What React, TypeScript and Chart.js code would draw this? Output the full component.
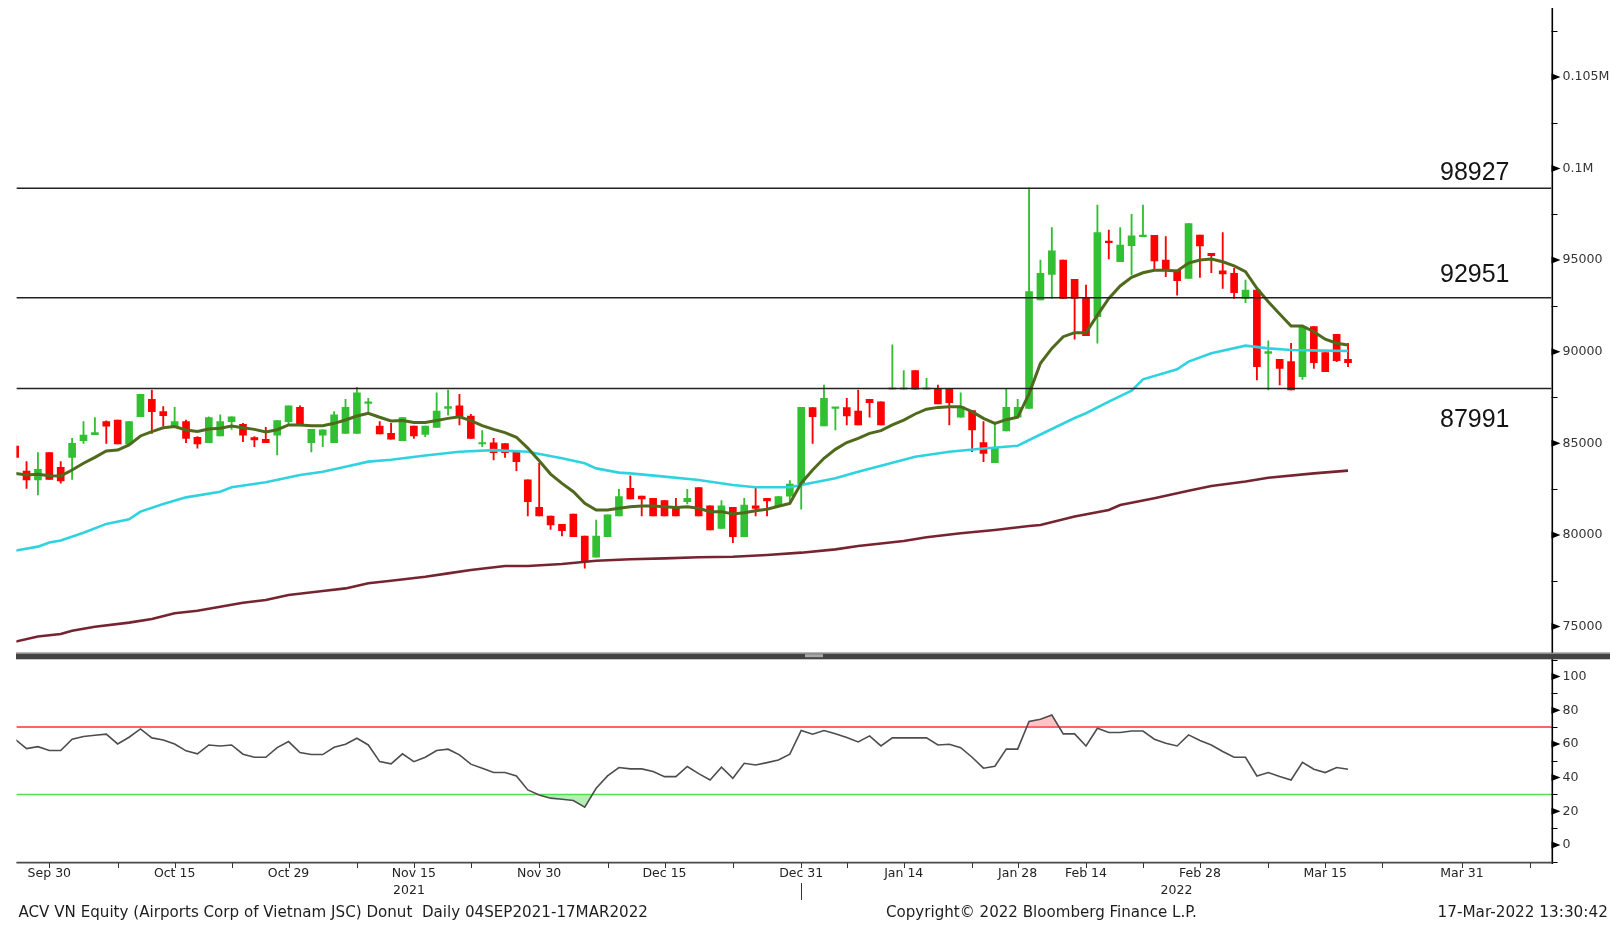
import { useEffect, useRef } from 'react';
import { Chart, registerables } from 'chart.js';

Chart.register(...registerables);

// ---------------- data (trading-day index 0 = 27 Sep 2021) ----------------
const openP = [
  84850, 83490, 83000, 84490, 83690, 84230, 85140, 85470, 86180, 86270,
  84960, 86450, 87400, 86730, 85910, 86180, 85330, 85030, 85400, 86180,
  86040, 85310, 85220, 85450, 86180, 86960, 85030, 85450, 85030, 85540,
  85540, 87180, 85940, 85540, 85140, 85940, 85490, 85870, 86910, 87040,
  86490, 84960, 85030, 84980, 84510, 83000, 81500, 81030, 80580, 81140,
  79940, 78780, 79900, 81030, 82540, 82120, 82000, 81870, 81500, 81810,
  82580, 81580, 80360, 81500, 79900, 81580, 81990, 81580, 82120, 82780,
  86950, 85950, 86910, 86950, 86760, 87400, 87260, 87950, 87950, 88970,
  87950, 87950, 87950, 86420, 86780, 85040, 83940, 85670, 86420, 86910,
  92820, 94220, 95000, 93950, 92910, 91910, 96040, 94910, 95790, 96280,
  96350, 95000, 94450, 94000, 96370, 95370, 94420, 94280, 92910, 93370,
  89910, 89580, 89460, 88640, 91370, 89950, 90950, 89580,
];
const highP = [
  85450, 84000, 84490, 84490, 84000, 85270, 86180, 86400, 86220, 86270,
  86180, 87670, 87910, 87000, 86960, 86270, 85360, 86450, 86550, 86450,
  86090, 85360, 85870, 86240, 87050, 87050, 85760, 85730, 86730, 87400,
  88060, 87450, 86180, 86090, 86400, 85940, 85940, 87760, 87910, 87670,
  86580, 85690, 85270, 84980, 84510, 83000, 83910, 81030, 80580, 81140,
  79940, 80810, 81090, 82490, 83220, 82120, 82000, 81870, 82000, 82490,
  82580, 81580, 81870, 81500, 82000, 82540, 81990, 82090, 82960, 86960,
  86950, 88180, 86960, 87450, 87910, 87400, 87260, 90370, 88970, 88970,
  88550, 88180, 87950, 87760, 86780, 86180, 86090, 87950, 87400, 98927,
  95000, 96770, 95000, 93950, 93640, 98010, 96640, 96770, 97500, 98010,
  96350, 96280, 94450, 96990, 96370, 95370, 96500, 94550, 93910, 93370,
  90600, 89580, 90460, 91370, 91370, 89950, 90950, 90460,
];
const lowP = [
  83000, 82540, 82180, 83030, 82820, 83030, 85000, 85470, 85000, 84960,
  84960, 86450, 85540, 85940, 85910, 85030, 84730, 85030, 85400, 85760,
  85090, 84820, 85030, 84360, 86040, 86040, 84530, 84820, 85030, 85540,
  85540, 86640, 85510, 85220, 85140, 85270, 85360, 85870, 86540, 86000,
  85270, 84820, 84090, 84230, 83510, 81030, 81030, 80300, 79940, 79900,
  78180, 78780, 79900, 81030, 81960, 81030, 81030, 81030, 81030, 81690,
  81030, 80270, 80360, 79580, 79900, 81030, 81030, 81580, 81720, 81400,
  85000, 85950, 85730, 86000, 86000, 86420, 86000, 87950, 87950, 87950,
  87950, 87150, 86000, 86420, 84540, 84000, 83940, 85670, 86420, 86910,
  92820, 92910, 92910, 90680, 90880, 90460, 95060, 94910, 94190, 96280,
  94460, 94100, 93080, 94000, 94060, 94310, 93460, 92910, 92680, 88460,
  87910, 88180, 87910, 88490, 89090, 88910, 89460, 89180,
];
const closeP = [
  84230, 83000, 83580, 83030, 82940, 85000, 85450, 85580, 85940, 84960,
  86180, 87670, 86730, 86510, 86180, 85270, 84960, 86400, 86180, 86450,
  85450, 85180, 85030, 86240, 87050, 86040, 85760, 85730, 86550, 86960,
  87760, 87270, 85510, 85220, 86400, 85400, 85940, 86760, 87000, 86450,
  85270, 85030, 84490, 84490, 84000, 81810, 81030, 80540, 80230, 79900,
  78540, 79940, 81090, 82090, 81960, 81960, 81030, 81030, 81030, 82000,
  81030, 80270, 81580, 79900, 81630, 81450, 81860, 82090, 82780, 86960,
  86450, 87450, 86960, 86490, 86000, 87220, 86000, 88000, 88000, 87950,
  88000, 87150, 87220, 87000, 85730, 84450, 84730, 86960, 86960, 93280,
  94280, 95500, 92910, 92910, 90880, 96500, 95950, 95820, 96330, 96330,
  94950, 94450, 93880, 96990, 95770, 95240, 94240, 93220, 93370, 89180,
  90000, 89090, 87910, 91370, 89400, 88910, 89510, 89400,
];
// short moving average (olive), one value per trading day
const maShort = [
  83360, 83270, 83310, 83230, 83220, 83540, 83910, 84230, 84580, 84630,
  84910, 85400, 85640, 85850, 85910, 85730, 85640, 85780, 85820, 85940,
  85850, 85760, 85620, 85740, 86000, 86000, 85960, 85960, 86090, 86270,
  86490, 86640, 86420, 86220, 86240, 86130, 86130, 86240, 86360, 86450,
  86240, 85960, 85760, 85580, 85330, 84740, 84050, 83320, 82810, 82360,
  81720, 81360, 81360, 81450, 81540, 81580, 81580, 81540, 81500, 81540,
  81450, 81270, 81270, 81140, 81210, 81320, 81400, 81560, 81720, 82820,
  83540, 84180, 84670, 85040, 85270, 85540, 85690, 86000, 86270, 86600,
  86860, 86960, 87000, 87000, 86730, 86360, 86090, 86290, 86420, 87700,
  89370, 90180, 90820, 91040, 91040, 92000, 92910, 93590, 94060, 94310,
  94440, 94440, 94400, 94840, 95000, 95060, 94910, 94680, 94370, 93460,
  92730, 92060, 91400, 91400, 91090, 90680, 90460, 90370,
];
// medium moving average (cyan), read at these trading-day indices
const maMidIdx = [0, 2, 3, 4, 6, 8, 10, 11, 13, 15, 18, 19, 22, 25, 27, 29, 31, 33, 36, 39, 42, 45, 48, 50, 51, 53, 54, 57, 60, 63, 65, 68, 69, 72, 74, 77, 79, 82, 85, 88, 90, 93, 94, 96, 98, 99, 102, 103, 105, 108, 110, 112, 115, 117];
const maMidVal = [79140, 79360, 79590, 79690, 80120, 80600, 80850, 81270, 81690, 82050, 82360, 82600, 82870, 83270, 83450, 83720, 84000, 84100, 84330, 84540, 84630, 84540, 84180, 83910, 83630, 83400, 83360, 83180, 83000, 82720, 82600, 82600, 82720, 83090, 83450, 83940, 84270, 84540, 84720, 84870, 85480, 86380, 86640, 87270, 87870, 88490, 89040, 89460, 89910, 90330, 90180, 90090, 90060, 90040];
// long moving average (maroon)
const maLongIdx = [0, 2, 4, 5, 7, 10, 12, 14, 16, 18, 20, 22, 24, 27, 29, 31, 33, 36, 38, 40, 43, 45, 48, 51, 54, 57, 60, 63, 66, 69, 72, 74, 78, 80, 83, 86, 89, 90, 93, 96, 97, 100, 103, 105, 108, 110, 114, 117];
const maLongVal = [74170, 74450, 74590, 74770, 74990, 75210, 75410, 75720, 75860, 76080, 76300, 76450, 76720, 76940, 77080, 77360, 77500, 77720, 77900, 78080, 78300, 78300, 78410, 78590, 78670, 78720, 78780, 78810, 78900, 79030, 79210, 79390, 79670, 79870, 80090, 80270, 80490, 80540, 81000, 81360, 81630, 82000, 82410, 82670, 82910, 83120, 83360, 83510];
const rsiVals = [
  62.8, 57.2, 58.4, 56.1, 56.1, 62.8, 64.4, 65.2, 65.8, 60.0,
  64.0, 68.9, 63.6, 62.4, 60.0, 55.9, 54.1, 59.4, 58.8, 59.4,
  53.9, 52.1, 52.1, 57.8, 61.4, 54.9, 53.7, 53.7, 58.0, 59.8,
  63.4, 59.4, 49.5, 48.2, 54.1, 49.5, 52.1, 56.1, 56.9, 53.5,
  48.0, 45.6, 43.0, 43.0, 41.0, 32.7, 29.7, 27.8, 27.2, 26.4,
  22.4, 33.7, 41.0, 46.0, 45.2, 45.2, 43.6, 40.6, 40.6, 46.6,
  42.4, 38.6, 46.2, 39.6, 48.5, 47.5, 48.9, 50.5, 53.9, 68.0,
  65.8, 68.0, 66.0, 63.8, 61.2, 64.8, 58.8, 63.6, 63.6, 63.6,
  63.6, 59.4, 59.8, 57.8, 52.1, 45.6, 46.8, 56.9, 56.9, 73.3,
  74.7, 77.2, 66.0, 66.0, 58.8, 69.3, 66.8, 66.8, 67.7, 67.7,
  62.8, 60.4, 58.8, 65.4, 62.0, 59.4, 55.5, 52.1, 52.1, 41.0,
  43.0, 40.6, 38.6, 49.1, 45.0, 43.0, 46.0, 45.0,
];
const levels = [98927, 92951, 87991];
const rsiBands = [70, 30];
const xTickIdx = [3, 14, 24, 35, 46, 57, 69, 78, 88, 94, 104, 115, 127];
const xTickLabels = ['Sep 30', 'Oct 15', 'Oct 29', 'Nov 15', 'Nov 30', 'Dec 15', 'Dec 31', 'Jan 14', 'Jan 28', 'Feb 14', 'Feb 28', 'Mar 15', 'Mar 31'];
const xMinorIdx = [9, 19, 30, 40, 52, 63, 73, 84, 99, 110, 120, 133];
const yearBreakIdx = 69;
const yearLabels = ['2021', '2022'];
const priceTicks = [75000, 80000, 85000, 90000, 95000, 100000, 105000];
const priceMinorTicks = [77500, 82500, 87500, 92500, 97500, 102500, 107500];
const rsiTicks = [0, 20, 40, 60, 80, 100];
const rsiMinorTicks = [-10, 10, 30, 50, 70, 90, 110];
const footerLeft = 'ACV VN Equity (Airports Corp of Vietnam JSC) Donut  Daily 04SEP2021-17MAR2022';
const footerMid = 'Copyright\u00A9 2022 Bloomberg Finance L.P.';
const footerRight = '17-Mar-2022 13:30:42';

// ---------------- layout / style ----------------
const W = 1610;
const TOP_H = 652;
const BOT_H = 273;
const PAD_L = 16.4;
const AXIS_W = 58.5;
const X_MIN = 0.11;
const X_MAX = 134.86;
const P_MIN = 73608;
const P_MAX = 108761;
const R_MIN = -10.7;
const R_MAX = 114.6;
const SANS = "'DejaVu Sans', Verdana, sans-serif";
const UP = '#33bf33';
const DOWN = '#ff0000';
const LEVEL_DY = [-8.5, -16, 38.5];

function tri(ctx: CanvasRenderingContext2D, x: number, y: number) {
  ctx.beginPath();
  ctx.moveTo(x, y - 3.5);
  ctx.lineTo(x + 9, y);
  ctx.lineTo(x, y + 3.5);
  ctx.closePath();
  ctx.fill();
}

function fitText(ctx: CanvasRenderingContext2D, text: string, x: number, y: number, width: number) {
  ctx.font = `13px ${SANS}`;
  const w = ctx.measureText(text).width;
  const size = (13 * width) / w;
  ctx.font = `${size}px ${SANS}`;
  ctx.textAlign = 'left';
  ctx.textBaseline = 'middle';
  ctx.fillText(text, x, y);
}

function drawAxisMarks(ctx: CanvasRenderingContext2D, scale: any, majors: number[], minors: number[], top: number, bottom: number) {
  const ax = scale.left;
  ctx.fillStyle = '#000';
  ctx.strokeStyle = '#000';
  ctx.lineWidth = 1;
  majors.forEach((v) => {
    const py = scale.getPixelForValue(v);
    if (py >= top && py <= bottom) tri(ctx, ax, py);
  });
  ctx.beginPath();
  minors.forEach((v) => {
    const py = Math.round(scale.getPixelForValue(v)) + 0.5;
    if (py >= top && py <= bottom) {
      ctx.moveTo(ax, py);
      ctx.lineTo(ax + 6, py);
    }
  });
  ctx.stroke();
}

const noPadY = (width: number) => (s: any) => {
  s.width = width;
  s.paddingTop = 0;
  s.paddingBottom = 0;
};

export default function App() {
  const topRef = useRef<HTMLCanvasElement>(null);
  const botRef = useRef<HTMLCanvasElement>(null);

  useEffect(() => {
    Chart.defaults.font.family = SANS;
    const idx = openP.map((_, i) => i);
    const colors = idx.map((i) => (closeP[i] >= openP[i] ? UP : DOWN));

    const topDeco = {
      id: 'topDeco',
      afterDraw(chart: any) {
        const { ctx, chartArea } = chart;
        const ys = chart.scales.y;
        ctx.save();
        ctx.strokeStyle = '#000';
        ctx.lineWidth = 1.6;
        ctx.beginPath();
        ctx.moveTo(ys.left + 0.8, chartArea.top);
        ctx.lineTo(ys.left + 0.8, chart.height);
        ctx.stroke();
        drawAxisMarks(ctx, ys, priceTicks, priceMinorTicks, chartArea.top, chartArea.bottom);
        ctx.fillStyle = '#151515';
        ctx.font = "25px 'Liberation Sans', Arial, sans-serif";
        ctx.textAlign = 'left';
        ctx.textBaseline = 'alphabetic';
        levels.forEach((lv, k) => {
          ctx.fillText(String(lv), chartArea.right - 111.5, ys.getPixelForValue(lv) + LEVEL_DY[k]);
        });
        ctx.restore();
      },
    };

    const botDeco = {
      id: 'botDeco',
      afterDraw(chart: any) {
        const { ctx, chartArea: ca } = chart;
        const xs = chart.scales.x;
        const ys = chart.scales.y;
        ctx.save();
        // right axis line
        ctx.strokeStyle = '#000';
        ctx.lineWidth = 1.6;
        ctx.beginPath();
        ctx.moveTo(ys.left + 0.8, 0);
        ctx.lineTo(ys.left + 0.8, ca.bottom + 1);
        ctx.stroke();
        drawAxisMarks(ctx, ys, rsiTicks, rsiMinorTicks, ca.top + 8, ca.bottom);
        // bottom axis line
        ctx.strokeStyle = '#4a4a4a';
        ctx.lineWidth = 1.8;
        ctx.beginPath();
        ctx.moveTo(ca.left, ca.bottom - 0.4);
        ctx.lineTo(ys.left + 1, ca.bottom - 0.4);
        ctx.stroke();
        // x ticks
        ctx.strokeStyle = '#333';
        ctx.lineWidth = 1;
        ctx.beginPath();
        [...xTickIdx, ...xMinorIdx].forEach((i) => {
          const px = Math.round(xs.getPixelForValue(i)) + 0.5;
          ctx.moveTo(px, ca.bottom);
          ctx.lineTo(px, ca.bottom + 5);
        });
        // year divider
        const yb = Math.round(xs.getPixelForValue(yearBreakIdx)) + 0.5;
        ctx.moveTo(yb, ca.bottom + 20);
        ctx.lineTo(yb, ca.bottom + 37);
        ctx.stroke();
        // year labels
        ctx.fillStyle = '#222';
        ctx.font = `12.5px ${SANS}`;
        ctx.textAlign = 'center';
        ctx.textBaseline = 'middle';
        ctx.fillText(yearLabels[0], (ca.left + yb) / 2, ca.bottom + 28);
        ctx.fillText(yearLabels[1], (yb + ca.right) / 2, ca.bottom + 28);
        // separator bar between panels
        ctx.fillStyle = '#434343';
        ctx.fillRect(16, 0.7, W - 16, 6.6);
        ctx.fillStyle = '#9a9a9a';
        ctx.fillRect(16, 0.7, W - 16, 1.2);
        ctx.fillStyle = '#a8a8a8';
        ctx.fillRect(805, 2.2, 18, 3);
        // footer
        ctx.fillStyle = '#1e1e1e';
        const fy = 913 - TOP_H;
        fitText(ctx, footerLeft, 18.5, fy, 629.5);
        fitText(ctx, footerMid, 886, fy, 311);
        fitText(ctx, footerRight, 1437.5, fy, 170.5);
        ctx.restore();
      },
    };

    const lineStyle = { pointRadius: 0, pointHoverRadius: 0, tension: 0, clip: 0, fill: false };

    const top = new Chart(topRef.current as HTMLCanvasElement, {
      type: 'bar',
      data: {
        datasets: [
          ...levels.map((lv) => ({
            type: 'line' as const,
            data: [{ x: X_MIN, y: lv }, { x: X_MAX, y: lv }],
            borderColor: '#222',
            borderWidth: 1.5,
            order: 0,
            ...lineStyle,
          })),
          {
            type: 'line' as const,
            data: maShort.map((v, i) => ({ x: i, y: v })),
            borderColor: '#4f6a1c',
            borderWidth: 3,
            order: 1,
            ...lineStyle,
          },
          {
            type: 'line' as const,
            data: maMidIdx.map((i, k) => ({ x: i, y: maMidVal[k] })),
            borderColor: '#2fd3df',
            borderWidth: 2.6,
            order: 2,
            ...lineStyle,
          },
          {
            type: 'line' as const,
            data: maLongIdx.map((i, k) => ({ x: i, y: maLongVal[k] })),
            borderColor: '#762530',
            borderWidth: 2.6,
            order: 3,
            ...lineStyle,
          },
          {
            type: 'bar' as const,
            data: idx.map((i) => ({ x: i, y: [openP[i], closeP[i]] })),
            backgroundColor: colors,
            barThickness: 7,
            minBarLength: 1.5,
            grouped: false,
            borderWidth: 0,
            order: 4,
            clip: 0,
          },
          {
            type: 'bar' as const,
            data: idx.map((i) => ({ x: i, y: [lowP[i], highP[i]] })),
            backgroundColor: colors,
            barThickness: 1.2,
            grouped: false,
            borderWidth: 0,
            order: 5,
            clip: 0,
          },
        ] as any,
      },
      options: {
        responsive: false,
        animation: false,
        events: [],
        layout: { padding: { left: PAD_L, top: 8, right: 0, bottom: 0 } },
        plugins: { legend: { display: false }, tooltip: { enabled: false } },
        scales: {
          x: { type: 'linear', min: X_MIN, max: X_MAX, display: false, offset: false },
          y: {
            type: 'linear',
            position: 'right',
            min: P_MIN,
            max: P_MAX,
            afterFit: noPadY(AXIS_W),
            afterBuildTicks: (s: any) => { s.ticks = priceTicks.map((v) => ({ value: v })); },
            grid: { display: false, drawTicks: false },
            border: { display: false },
            ticks: {
              autoSkip: false,
              padding: 11,
              color: '#333',
              font: { family: SANS, size: 12.6 },
              callback: (v: any) => (v >= 100000 ? `${+(v / 1e6).toFixed(3)}M` : `${v}`),
            },
          },
        },
      } as any,
      plugins: [topDeco],
    });

    const bot = new Chart(botRef.current as HTMLCanvasElement, {
      type: 'line',
      data: {
        datasets: [
          {
            data: rsiVals.map((v, i) => ({ x: i, y: v })),
            borderColor: '#4d4d4d',
            borderWidth: 1.6,
            pointRadius: 0,
            tension: 0,
            clip: 0,
            order: 0,
            fill: { target: { value: rsiBands[0] }, above: 'rgba(255,110,110,0.4)', below: 'rgba(0,0,0,0)' },
          },
          {
            data: rsiVals.map((v, i) => ({ x: i, y: v })),
            borderWidth: 0,
            borderColor: 'rgba(0,0,0,0)',
            pointRadius: 0,
            tension: 0,
            clip: 0,
            order: 1,
            fill: { target: { value: rsiBands[1] }, above: 'rgba(0,0,0,0)', below: 'rgba(90,220,90,0.45)' },
          },
          {
            data: [{ x: X_MIN, y: rsiBands[0] }, { x: X_MAX, y: rsiBands[0] }],
            borderColor: '#ff3030',
            borderWidth: 1.5,
            pointRadius: 0,
            clip: 0,
            order: 2,
            fill: false,
          },
          {
            data: [{ x: X_MIN, y: rsiBands[1] }, { x: X_MAX, y: rsiBands[1] }],
            borderColor: '#55dd55',
            borderWidth: 1.5,
            pointRadius: 0,
            clip: 0,
            order: 3,
            fill: false,
          },
        ] as any,
      },
      options: {
        responsive: false,
        animation: false,
        events: [],
        layout: { padding: { left: PAD_L, top: 0, right: 0, bottom: 0 } },
        plugins: { legend: { display: false }, tooltip: { enabled: false } },
        scales: {
          x: {
            type: 'linear',
            min: X_MIN,
            max: X_MAX,
            offset: false,
            afterFit: (s: any) => {
              s.height = 62;
              s.paddingLeft = 0;
              s.paddingRight = 0;
            },
            afterBuildTicks: (s: any) => { s.ticks = xTickIdx.map((v) => ({ value: v })); },
            grid: { display: false, drawTicks: false },
            border: { display: false },
            ticks: {
              autoSkip: false,
              maxRotation: 0,
              minRotation: 0,
              padding: 3.5,
              color: '#222',
              font: { family: SANS, size: 12.5 },
              callback: (_v: any, i: number) => xTickLabels[i] ?? '',
            },
          },
          y: {
            type: 'linear',
            position: 'right',
            min: R_MIN,
            max: R_MAX,
            afterFit: noPadY(AXIS_W),
            afterBuildTicks: (s: any) => { s.ticks = rsiTicks.map((v) => ({ value: v })); },
            grid: { display: false, drawTicks: false },
            border: { display: false },
            ticks: {
              autoSkip: false,
              padding: 11,
              color: '#333',
              font: { family: SANS, size: 12.6 },
              callback: (v: any) => `${v}`,
            },
          },
        },
      } as any,
      plugins: [botDeco],
    });

    return () => {
      top.destroy();
      bot.destroy();
    };
  }, []);

  return (
    <div style={{ position: 'fixed', left: 0, top: 0, width: W, height: TOP_H + BOT_H, background: '#fff' }}>
      <canvas ref={topRef} width={W} height={TOP_H} style={{ position: 'absolute', left: 0, top: 0 }} />
      <canvas ref={botRef} width={W} height={BOT_H} style={{ position: 'absolute', left: 0, top: TOP_H }} />
    </div>
  );
}
